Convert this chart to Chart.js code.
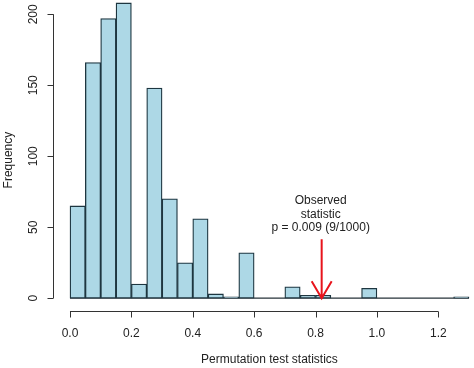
<!DOCTYPE html>
<html>
<head>
<meta charset="utf-8">
<script src="https://cdn.jsdelivr.net/npm/chart.js@4"></script>
<style>
  html, body { margin: 0; padding: 0; background: #ffffff; overflow: hidden; }
  #c { display: block; }
</style>
</head>
<body>
<canvas id="c" width="474" height="368"></canvas>
<script>
// ---- data ----
const binMids = [0.025, 0.075, 0.125, 0.175, 0.225, 0.275, 0.325, 0.375, 0.425, 0.475,
                 0.525, 0.575, 0.625, 0.675, 0.725, 0.775, 0.825, 0.875, 0.925, 0.975,
                 1.025, 1.075, 1.125, 1.175, 1.225, 1.275];
const counts  = [65, 166, 197, 208, 10, 148, 70, 25, 56, 3,
                 1, 32, 0, 0, 8, 2, 2, 0, 0, 7,
                 0, 0, 0, 0, 0, 1];
const histRange = [0, 1.3];
const xTickValues = [0.0, 0.2, 0.4, 0.6, 0.8, 1.0, 1.2];
const yTickValues = [0, 50, 100, 150, 200];
const observedStat = 0.82;
const arrowTop = 41.5;
const annotationLines = ["Observed", "statistic", "p = 0.009 (9/1000)"];
const annotationY = [69, 59, 49.5];
const xTitle = "Permutation test statistics";
const yTitle = "Frequency";

const FONT = '12px "Liberation Sans", Arial, sans-serif';
const TEXT = '#222222';
const AXIS = '#333333';

const histPoints = binMids.map((m, i) => ({ x: m, y: counts[i] }));
const baseLine = histRange.map(v => ({ x: v, y: 0 }));

const axesPlugin = {
  id: 'rAxes',
  afterDraw(chart) {
    const ctx = chart.ctx;
    const xs = chart.scales.x, ys = chart.scales.y;
    const area = chart.chartArea;
    ctx.save();
    ctx.strokeStyle = AXIS;
    ctx.fillStyle = TEXT;
    ctx.lineWidth = 1;
    ctx.font = FONT;

    // x axis
    const axY = area.bottom + 1.5;
    ctx.beginPath();
    ctx.moveTo(xs.getPixelForValue(xTickValues[0]), axY);
    ctx.lineTo(xs.getPixelForValue(xTickValues[xTickValues.length - 1]), axY);
    xTickValues.forEach(v => {
      const px = Math.round(xs.getPixelForValue(v)) + 0.5;
      ctx.moveTo(px, axY);
      ctx.lineTo(px, axY + 6);
    });
    ctx.stroke();
    ctx.textAlign = 'center';
    ctx.textBaseline = 'middle';
    xTickValues.forEach(v => {
      ctx.fillText(v.toFixed(1), xs.getPixelForValue(v), axY + 22);
    });
    ctx.fillText(xTitle, (area.left + xs.getPixelForValue(1.352)) / 2, axY + 48);

    // y axis
    const axX = area.left - 0.5;
    ctx.beginPath();
    ctx.moveTo(axX, ys.getPixelForValue(yTickValues[0]));
    ctx.lineTo(axX, ys.getPixelForValue(yTickValues[yTickValues.length - 1]));
    yTickValues.forEach(v => {
      const py = Math.round(ys.getPixelForValue(v)) + 0.5;
      ctx.moveTo(axX, py);
      ctx.lineTo(axX - 6, py);
    });
    ctx.stroke();
    yTickValues.forEach(v => {
      ctx.save();
      ctx.translate(axX - 20, ys.getPixelForValue(v));
      ctx.rotate(-Math.PI / 2);
      ctx.fillText(String(v), 0, 0);
      ctx.restore();
    });
    ctx.save();
    ctx.translate(8.5, (ys.getPixelForValue(-8.31) + ys.getPixelForValue(210)) / 2 + 5);
    ctx.rotate(-Math.PI / 2);
    ctx.fillText(yTitle, 0, 0);
    ctx.restore();

    // annotation
    const ax = xs.getPixelForValue(observedStat);
    annotationLines.forEach((t, i) => {
      ctx.fillText(t, ax - 1, ys.getPixelForValue(annotationY[i]));
    });
    const yTop = ys.getPixelForValue(arrowTop);
    const yTip = ys.getPixelForValue(0);
    ctx.strokeStyle = '#e8141c';
    ctx.lineWidth = 2;
    ctx.beginPath();
    ctx.moveTo(ax, yTop);
    ctx.lineTo(ax, yTip);
    ctx.moveTo(ax - 10, yTip - 17);
    ctx.lineTo(ax, yTip);
    ctx.lineTo(ax + 10, yTip - 17);
    ctx.stroke();
    ctx.restore();
  }
};

new Chart(document.getElementById('c'), {
  type: 'bar',
  data: {
    datasets: [
      {
        type: 'line',
        data: baseLine,
        borderColor: '#263238',
        borderWidth: 1.3,
        pointRadius: 0,
        order: 2
      },
      {
        data: histPoints,
        backgroundColor: '#add8e6',
        borderColor: '#1e3640',
        borderWidth: 1.3,
        borderSkipped: false,
        barPercentage: 1,
        categoryPercentage: 1,
        order: 1
      }
    ]
  },
  options: {
    responsive: false,
    animation: false,
    devicePixelRatio: 1,
    layout: { padding: 0 },
    plugins: { legend: { display: false }, tooltip: { enabled: false } },
    scales: {
      x: {
        type: 'linear',
        offset: false,
        min: -0.0521,
        max: 1.3163,
        grid: { display: false },
        border: { display: false },
        ticks: { display: false },
        afterFit(s) { s.height = 58; }
      },
      y: {
        min: -8.31,
        max: 210.07,
        grid: { display: false },
        border: { display: false },
        ticks: { display: false },
        afterFit(s) { s.width = 54; }
      }
    }
  },
  plugins: [axesPlugin]
});
</script>
</body>
</html>
